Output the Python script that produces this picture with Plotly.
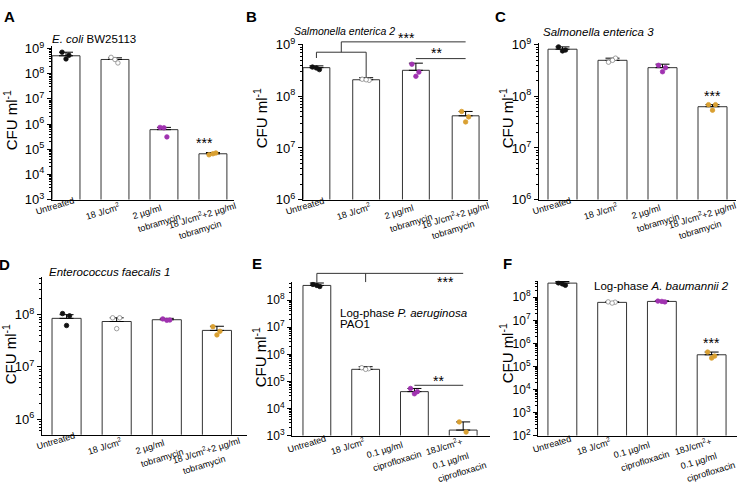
import plotly.graph_objects as go

W, H = 738, 491
FONT = "Liberation Sans, Arial, Helvetica, sans-serif"

# ---------------- data ----------------
tobra_labels = [["Untreated"], ["18 J/cm<sup>2</sup>"], ["2 µg/ml", "tobramycin"],
                ["18 J/cm<sup>2</sup>+2 µg/ml", "tobramycin"]]
cipro_labels = [["Untreated"], ["18 J/cm<sup>2</sup>"], ["0.1 µg/ml", "ciprofloxacin"],
                ["18J/cm<sup>2</sup>+", "0.1 µg/ml", "ciprofloxacin"]]

a_mean = [5.2e8, 3.7e8, 6.0e5, 6.6e4]
a_sd = [2.0e8, 0.6e8, 1.4e5, 0.8e4]
a_pts = [[7.2e8, 5.4e8, 3.9e8], [4.5e8, 2.7e8, 3.7e8], [7.4e5, 3.1e5, 7.1e5], [6.0e4, 7.1e4, 6.6e4]]

b_mean = [3.6e8, 2.1e8, 3.2e8, 4.2e7]
b_sd = [0.3e8, 0.2e8, 1.2e8, 0.9e7]
b_pts = [[3.7e8, 3.3e8, 3.55e8], [2.15e8, 2.05e8, 2.1e8], [4.2e8, 2.95e8, 2.45e8], [5.1e7, 4.0e7, 3.2e7]]

c_mean = [8.2e8, 5.0e8, 3.6e8, 6.3e7]
c_sd = [0.9e8, 0.5e8, 0.6e8, 0.6e7]
c_pts = [[9.1e8, 7.9e8, 7.6e8], [4.6e8, 5.5e8, 5.0e8], [4.0e8, 3.6e8, 3.0e8], [6.9e7, 6.9e7, 5.4e7]]

d_mean = [8.5e7, 7.4e7, 8.0e7, 5.0e7]
d_sd = [1.5e7, 1.3e7, 0.5e7, 1.0e7]
d_pts = [[1.05e8, 9.5e7, 6.2e7], [8.7e7, 8.7e7, 5.4e7], [8.3e7, 7.9e7, 7.8e7], [5.9e7, 4.8e7, 4.1e7]]

e_mean = [3.5e8, 2.8e5, 4.2e4, 1.6e3]
e_sd = [0.8e8, 0.7e5, 1.3e4, 1.6e3]
e_pts = [[3.8e8, 3.2e8, 3.5e8], [3.2e5, 2.95e5, 2.8e5], [5.5e4, 4.2e4, 3.5e4], [3.2e3, 1.35e3]]

f_mean = [4.1e8, 6.0e7, 6.6e7, 3.2e5]
f_sd = [0.7e8, 0.3e7, 0.4e7, 1.0e5]
f_pts = [[4.2e8, 3.3e8, 3.8e8], [6.3e7, 6.1e7, 5.6e7], [6.8e7, 6.3e7, 6.6e7], [4.2e5, 2.8e5, 2.3e5]]

# ---------------- styling / layout ----------------
group_fill = ["#111111", "white", "#a032b0", "#d9a032"]
group_edge = ["#111111", "#888888", "#a032b0", "#d9a032"]
jitter = [-0.08, 0.06, 0.0]

tobra_off = [[(-11, 6)], [(-12, 11)], [(-17, 12), (-5, 23)], [(-11, 15), (-13, 30)]]
cipro_off = [[(-10, 8)], [(-18, 10)], [(-30, 14), (-17, 25)], [(-19, 10), (-13, 25), (-1, 36)]]

def px(x):
    return x / W

def py(y):
    return 1 - y / H

panels = [
    dict(letter="A", lp=(9, 9), mean=a_mean, sd=a_sd, pts=a_pts, labels=tobra_labels, off=tobra_off,
         left=52, right=234, top=39, bottom=198, yr=(3, 9.115), xr=(-0.286, 3.43), bw=0.57, tf=13,
         ytitle=(10, 116)),
    dict(letter="B", lp=(251, 9), mean=b_mean, sd=b_sd, pts=b_pts, labels=tobra_labels, off=tobra_off,
         left=303, right=488, top=37, bottom=198, yr=(6, 9.019), xr=(-0.27, 3.45), bw=0.54, tf=13,
         ytitle=(260, 114)),
    dict(letter="C", lp=(500, 9), mean=c_mean, sd=c_sd, pts=c_pts, labels=tobra_labels, off=tobra_off,
         left=539, right=736, top=36, bottom=198, yr=(6, 9.0375), xr=(-0.47, 3.47), bw=0.58, tf=13,
         ytitle=(506, 114)),
    dict(letter="D", lp=(4, 265), mean=d_mean, sd=d_sd, pts=d_pts, labels=tobra_labels, off=tobra_off,
         left=42, right=247, top=278, bottom=441, yr=(5.704, 8.722), xr=(-0.49, 3.6), bw=0.58, tf=13,
         ytitle=(9, 358)),
    dict(letter="E", lp=(257, 264), mean=e_mean, sd=e_sd, pts=e_pts, labels=cipro_labels, off=cipro_off,
         left=292, right=490, top=283, bottom=442, yr=(3, 8.679), xr=(-0.51, 3.55), bw=0.57, tf=12,
         ytitle=(259, 361)),
    dict(letter="F", lp=(507, 264), mean=f_mean, sd=f_sd, pts=f_pts, labels=cipro_labels, off=cipro_off,
         left=538, right=737, top=282, bottom=442, yr=(2, 8.713), xr=(-0.49, 3.51), bw=0.58, tf=12,
         ytitle=(506, 357)),
]

fig = go.Figure()
layout = dict(width=W, height=H, margin=dict(l=0, r=0, t=0, b=0),
              paper_bgcolor="white", plot_bgcolor="white",
              font=dict(family=FONT, color="black"), showlegend=False)
annotations = []
shapes = []

for i, p in enumerate(panels):
    n = "" if i == 0 else str(i + 1)
    xa, ya = "x" + n, "y" + n
    cats = list(range(len(p["mean"])))
    fig.add_trace(go.Bar(
        x=cats, y=p["mean"], width=p["bw"], xaxis=xa, yaxis=ya,
        marker=dict(color="white", line=dict(color="#333333", width=1)),
        error_y=dict(type="data", array=p["sd"], arrayminus=[0] * len(cats), symmetric=False,
                     color="black", thickness=1, width=7),
        hoverinfo="skip"))
    for g, vals in enumerate(p["pts"]):
        fig.add_trace(go.Scatter(
            x=[g + jitter[k] for k in range(len(vals))], y=vals, mode="markers",
            xaxis=xa, yaxis=ya,
            marker=dict(size=4.5, color=group_fill[g], line=dict(color=group_edge[g], width=0.8)),
            hoverinfo="skip"))
    lo, hi = p["yr"]
    exps = list(range(int(-(-lo // 1)), int(hi // 1) + 1))
    layout["xaxis" + n] = dict(domain=[px(p["left"]), px(p["right"])], range=list(p["xr"]),
                               anchor=ya, showline=True, linecolor="black", linewidth=1,
                               showticklabels=False, ticks="", showgrid=False, zeroline=False,
                               fixedrange=True)
    layout["yaxis" + n] = dict(domain=[py(p["bottom"]), py(p["top"])], type="log", range=[lo, hi],
                               anchor=xa, showline=True, linecolor="black", linewidth=1,
                               tickmode="array", tickvals=[10 ** e for e in exps],
                               ticktext=["10<sup>%d</sup>" % e for e in exps],
                               ticks="outside", ticklen=4, tickwidth=1, tickcolor="black",
                               tickfont=dict(size=p["tf"], family=FONT),
                               minor=dict(ticks="outside", ticklen=2.5, tickwidth=1, tickcolor="black",
                                          tickmode="linear", dtick="D1", showgrid=False),
                               showgrid=False, zeroline=False, fixedrange=True)
    # x category labels
    for g, lines in enumerate(p["labels"]):
        for j, line in enumerate(lines):
            dx, dy = p["off"][g][j]
            annotations.append(dict(x=g, xref=xa, y=0, yref=ya + " domain", xshift=dx, yshift=-dy,
                                    text=line, textangle=-17, showarrow=False,
                                    xanchor="center", yanchor="middle",
                                    font=dict(size=9, family=FONT)))
    # panel letter
    annotations.append(dict(x=px(p["lp"][0]), y=py(p["lp"][1]), xref="paper", yref="paper",
                            text="<b>%s</b>" % p["letter"], showarrow=False,
                            xanchor="center", yanchor="middle", font=dict(size=15, family=FONT)))
    # y title
    annotations.append(dict(x=px(p["ytitle"][0]), y=py(p["ytitle"][1]), xref="paper", yref="paper",
                            text="CFU ml<sup>-1</sup>", textangle=-90, showarrow=False,
                            xanchor="center", yanchor="middle", font=dict(size=15, family=FONT)))

# panel titles
titles = [
    ("<i>E. coli</i> BW25113", 50, 32, 11.5),
    ("<i>Salmonella enterica 2</i>", 292, 24, 10.5),
    ("<i>Salmonella enterica 3</i>", 541, 25, 11.5),
    ("<i>Enterococcus faecalis 1</i>", 47, 273, 11.5),
    ("Log-phase <i>P. aeruginosa</i>", 338, 315, 11.5),
    ("PAO1", 338, 327, 11.5),
    ("Log-phase <i>A. baumannii 2</i>", 592, 287, 11.5),
]
for t, x, y, s in titles:
    annotations.append(dict(x=px(x), y=py(y), xref="paper", yref="paper", text=t, showarrow=False,
                            xanchor="left", yanchor="middle", font=dict(size=s, family=FONT)))

# significance stars
stars = [
    ("***", "x", 2.82, 140),
    ("***", "x3", 3.0, 91),
    ("***", "x6", 3.0, 346.5),
    ("***", "x2", 1.82, 31),
    ("**", "x2", 2.42, 46.5),
    ("***", "x5", 2.63, 283.3),
    ("**", "x5", 2.49, 385.7),
]
for t, xr, x, y in stars:
    annotations.append(dict(x=x, xref=xr, y=py(y), yref="paper", text=t, showarrow=False,
                            xanchor="center", yanchor="middle", font=dict(size=14, family=FONT)))

def seg(xr, x0, y0, x1, y1):
    shapes.append(dict(type="line", xref=xr, yref="paper", x0=x0, x1=x1, y0=py(y0), y1=py(y1),
                       line=dict(color="#333333", width=1)))

# B brackets
seg("x2", 0, 45.7, 1, 45.7)
seg("x2", 0, 45.7, 0, 51.7)
seg("x2", 1, 45.7, 1, 72)
seg("x2", 0.5, 45.7, 0.5, 35)
seg("x2", 0.5, 35, 3, 35)
seg("x2", 2, 52.3, 3, 52.3)
# E brackets
seg("x5", 0, 274.3, 3, 274.3)
seg("x5", 0, 274.3, 0, 283.3)
seg("x5", 1, 274.3, 1, 283.3)
seg("x5", 2, 390, 3, 390)

layout["annotations"] = annotations
layout["shapes"] = shapes
fig.update_layout(**layout)
fig.write_html("out.html", config={"displayModeBar": False},
               post_script="document.body.style.margin='0';document.body.style.padding='0';")
